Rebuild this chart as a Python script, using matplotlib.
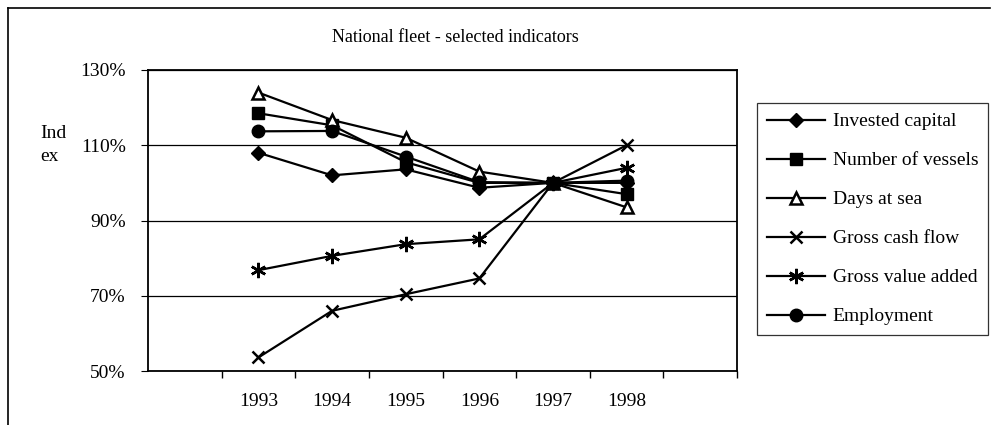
import matplotlib
matplotlib.use("Agg")
import matplotlib.pyplot as plt
from matplotlib.lines import Line2D

plt.rcParams['font.family'] = ['Liberation Serif', 'DejaVu Serif']

years = ["1993", "1994", "1995", "1996", "1997", "1998"]
invested_capital = [108, 102, 103.6, 98.7, 100, 100]
number_of_vessels = [118.5, 115.3, 105.5, 100, 100, 97]
days_at_sea = [124, 116.7, 112, 103, 100, 93.5]
gross_cash_flow = [53.6, 66, 70.4, 74.6, 100, 110]
gross_value_added = [76.8, 80.6, 83.7, 85, 100, 104]
employment = [113.7, 113.8, 107, 100.2, 100, 100.6]

series = [
    ("Invested capital", invested_capital, dict(marker="D", ms=7, mfc="black")),
    ("Number of vessels", number_of_vessels, dict(marker="s", ms=8, mfc="black")),
    ("Days at sea", days_at_sea, dict(marker="^", ms=9, mfc="white", mew=1.8)),
    ("Gross cash flow", gross_cash_flow, dict(marker="x", ms=9, mew=1.8)),
    ("Gross value added", gross_value_added, dict(marker=(6, 2, 0), ms=11, mew=1.8)),
    ("Employment", employment, dict(marker="o", ms=9, mfc="black")),
]

fig = plt.figure(figsize=(9.95, 4.25), dpi=100)
ax = fig.add_axes([148 / 995, 1 - 371 / 425, (737 - 148) / 995, (371 - 70) / 425])

x = list(range(1, len(years) + 1))
handles = []
for name, vals, style in series:
    line, = ax.plot(x, vals, color="black", lw=1.6, mec="black", label=name, **style)
    handles.append(line)

ax.set_xlim(-0.5, 7.5)
ax.set_ylim(50, 130)
ax.set_yticks([50, 70, 90, 110, 130])
ax.set_yticklabels(["50%", "70%", "90%", "110%", "130%"])
ax.set_xticks(x)
ax.set_xticklabels(years)
ax.set_xticks([i + 0.5 for i in range(8)], minor=True)
ax.tick_params(axis="x", which="major", length=0, pad=16, labelsize=14)
ax.tick_params(axis="x", which="minor", length=5, direction="out", width=1)
ax.tick_params(axis="y", length=5, direction="out", pad=11, labelsize=14)
ax.grid(axis="y", color="black", lw=0.9)
for s in ax.spines.values():
    s.set_linewidth(1.3)

fig.text(455 / 995, 1 - 38 / 425, "National fleet - selected indicators",
         ha="center", va="center", fontsize=13)
fig.text(40 / 995, 1 - 145 / 425, "Ind\nex", ha="left", va="center",
         fontsize=14, linespacing=1.5)

leg = fig.legend(handles=handles, loc="upper left",
                 bbox_to_anchor=(757 / 995, 1 - 103 / 425), fontsize=14,
                 frameon=True, fancybox=False, edgecolor="black",
                 handlelength=3.0, labelspacing=1.1, borderpad=0.5,
                 handletextpad=0.4, borderaxespad=0)
leg.get_frame().set_linewidth(0.9)

# outer chart frame
fig.add_artist(Line2D([8 / 995, 8 / 995], [0, 1 - 8 / 425], color="black", lw=1.2,
                      transform=fig.transFigure))
fig.add_artist(Line2D([8 / 995, 990 / 995], [1 - 8 / 425, 1 - 8 / 425], color="black",
                      lw=1.2, transform=fig.transFigure))

fig.savefig("out.png", dpi=100)
